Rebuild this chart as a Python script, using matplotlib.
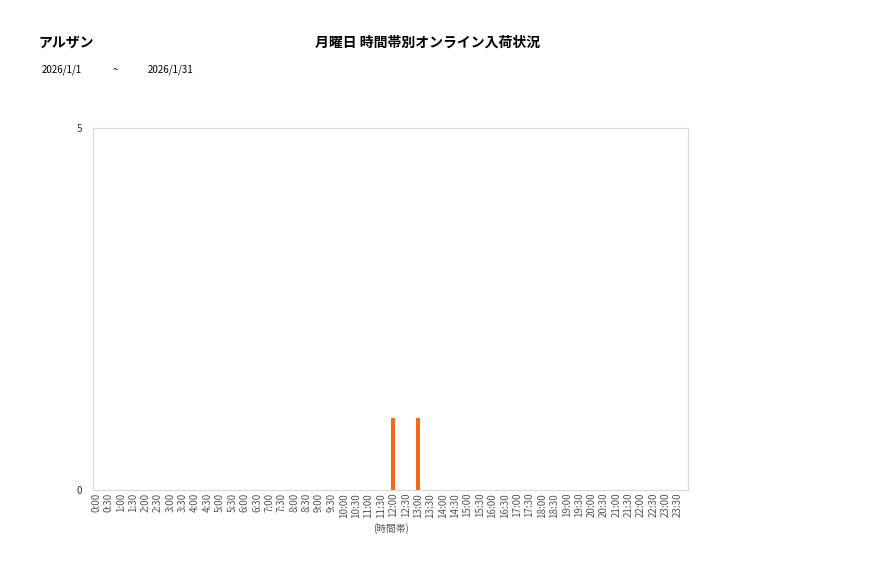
import numpy as np
import matplotlib.pyplot as plt

plt.rcParams['font.family'] = ['Noto Sans CJK JP', 'DejaVu Sans']

# data
slots = [f"{h}:{m:02d}" for h in range(24) for m in (0, 30)]
values = [0] * 48
values[slots.index("12:00")] = 1
values[slots.index("13:00")] = 1

shop = "アルザン"
title = "月曜日 時間帯別オンライン入荷状況"
date_from = "2026/1/1"
date_to = "2026/1/31"

fig = plt.figure(figsize=(8.77, 5.78), dpi=100)
ax = fig.add_axes([93 / 877, 88 / 578, 595 / 877, 362 / 578])

x = np.arange(len(slots))
ax.bar(x, values, width=0.3, color='#EE6A1A')

ax.set_xlim(-0.25, 47.8)
ax.set_ylim(0, 5)
ax.set_yticks([0, 5])
ax.set_xticks(x)
ax.set_xticklabels(slots, rotation=90, fontsize=7, color='#555555')
ax.tick_params(axis='y', labelsize=7, colors='#333333', length=0, pad=8)
ax.tick_params(axis='x', length=0, pad=2)
for s in ax.spines.values():
    s.set_color('#D9D9D9')
ax.set_xlabel("(時間帯)", fontsize=7, color='#555555', labelpad=4)

fig.text(38 / 877, 1 - 43 / 578, shop, fontsize=10, fontweight='bold', va='center', ha='left')
fig.text(428 / 877, 1 - 43 / 578, title, fontsize=10, fontweight='bold', va='center', ha='center')
fig.text(42 / 877, 1 - 70 / 578, date_from, fontsize=7, va='center', ha='left')
fig.text(115 / 877, 1 - 70 / 578, "~", fontsize=7, va='center', ha='center')
fig.text(148 / 877, 1 - 70 / 578, date_to, fontsize=7, va='center', ha='left')

fig.savefig('out.png', dpi=100)
